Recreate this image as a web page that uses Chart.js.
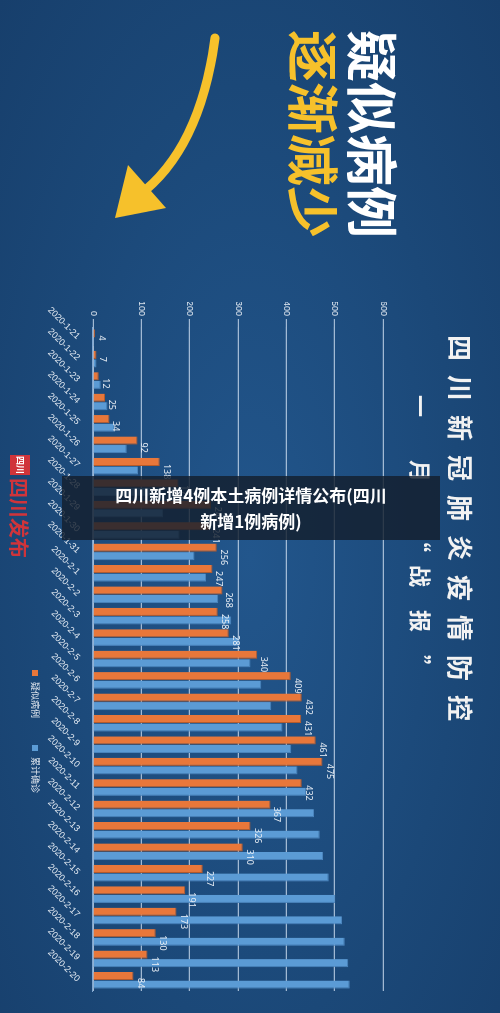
<!DOCTYPE html>
<html><head><meta charset="utf-8">
<script src="https://cdn.jsdelivr.net/npm/chart.js@4"></script>
<style>
html,body{margin:0;padding:0;background:#1c4a7c;width:500px;height:1013px;overflow:hidden;font-family:"Noto Sans CJK SC","Noto Sans",sans-serif}
#rot{position:absolute;left:500px;top:0;width:1013px;height:500px;transform-origin:0 0;transform:rotate(90deg);background:radial-gradient(ellipse at 55% 50%,#22568c 0%,#1b4878 60%,#173f6c 100%)}
#banner{position:absolute;left:62px;top:476px;width:378px;height:64px;background:rgba(20,30,45,0.82);color:#fff;font-weight:bold;font-size:17px;line-height:26px;text-align:center;padding-top:6px;box-sizing:border-box}
</style></head><body>
<div id="rot"><canvas id="c" width="1013" height="500"></canvas></div>
<div id="banner">四川新增4例本土病例详情公布(四川<br>新增1例病例)</div>
<script>
const categories=["2020-1-21","2020-1-22","2020-1-23","2020-1-24","2020-1-25","2020-1-26","2020-1-27","2020-1-28","2020-1-29","2020-1-30","2020-1-31","2020-2-1","2020-2-2","2020-2-3","2020-2-4","2020-2-5","2020-2-6","2020-2-7","2020-2-8","2020-2-9","2020-2-10","2020-2-11","2020-2-12","2020-2-13","2020-2-14","2020-2-15","2020-2-16","2020-2-17","2020-2-18","2020-2-19","2020-2-20"];
const suspected=[4,7,12,25,34,92,138,177,244,241,256,247,268,258,281,340,409,432,431,461,475,432,367,326,310,227,191,173,130,113,84];
const confirmed=[2,7,16,30,45,70,93,120,145,179,210,234,259,286,303,326,348,369,392,410,423,441,457,469,476,488,501,515,521,528,531];
const valueTicks=[0,100,200,300,400,500,600];
const seriesNames=["疑似病例","累计确诊"];

const deco={id:'deco',
 afterDatasetsDraw(ch){
  const ctx=ch.ctx;const m=ch.getDatasetMeta(0);
  ctx.save();ctx.fillStyle='#e8eef5';ctx.font='9px "Noto Sans",sans-serif';ctx.textAlign='left';ctx.textBaseline='bottom';
  m.data.forEach((b,i)=>{ctx.fillText(suspected[i],b.x+2,b.y-2);});
  ctx.restore();
 },
 beforeDraw(ch){
  const ctx=ch.ctx;ctx.save();
  ctx.fillStyle='#f2f2f2';ctx.font='bold 26px "Noto Sans CJK SC"';ctx.textBaseline='middle';
  const t="四川新冠肺炎疫情防控";for(let i=0;i<t.length;i++)ctx.fillText(t[i],335+i*40,40);
  ctx.font='bold 22px "Noto Sans CJK SC"';
  const s=["一","月","“","战","报","”"];const sx=[395,460,530,565,610,655];
  s.forEach((c,i)=>ctx.fillText(c,sx[i],80));
  ctx.font='bold 52px "Noto Sans CJK SC"';ctx.fillStyle='#ffffff';ctx.fillText("疑似病例",30,128);
  ctx.fillStyle='#f6c12b';ctx.fillText("逐渐减少",30,187);
  ctx.strokeStyle='#f6c12b';ctx.lineWidth=9;ctx.lineCap='round';
  ctx.beginPath();ctx.moveTo(38,285);ctx.quadraticCurveTo(150,300,196,362);ctx.stroke();
  ctx.fillStyle='#f6c12b';ctx.beginPath();ctx.moveTo(218,385);ctx.lineTo(165,372);ctx.lineTo(208,334);ctx.closePath();ctx.fill();
  ctx.fillStyle='#d0343a';ctx.fillRect(455,470,20,20);
  ctx.fillStyle='#fff';ctx.font='bold 9px "Noto Sans CJK SC"';ctx.fillText("四川",456,480);
  ctx.fillStyle='#d0343a';ctx.font='bold 20px "Noto Sans CJK SC"';ctx.fillText("四川发布",478,481);
  ctx.font='9px "Noto Sans CJK SC"';
  ctx.fillStyle='#e8773a';ctx.fillRect(670,462,6,6);ctx.fillStyle='#e0e6ee';ctx.fillText(seriesNames[0],682,465);
  ctx.fillStyle='#5b9bd5';ctx.fillRect(745,462,6,6);ctx.fillStyle='#e0e6ee';ctx.fillText(seriesNames[1],757,465);
  ctx.restore();
 }};

new Chart(document.getElementById('c'),{type:'bar',
 data:{labels:categories,datasets:[
  {label:seriesNames[0],data:suspected,backgroundColor:'#e8773a',borderColor:'#b85a28',borderWidth:{top:1,right:1},categoryPercentage:0.8,barPercentage:0.95},
  {label:seriesNames[1],data:confirmed,backgroundColor:'#5b9bd5',borderColor:'#4a84bd',borderWidth:{top:1,right:1},categoryPercentage:0.8,barPercentage:0.95}]},
 options:{responsive:false,animation:false,devicePixelRatio:1,
  layout:{padding:{left:302,top:117,right:22,bottom:38}},
  plugins:{legend:{display:false},tooltip:{enabled:false}},
  scales:{
   x:{grid:{display:false},border:{color:'#7fa6d0'},ticks:{color:'#dfe7f0',font:{size:9},minRotation:45,maxRotation:45,autoSkip:false},afterFit(s){s.height=55;}},
   y:{min:0,max:600,afterBuildTicks(s){s.ticks=valueTicks.map(v=>({value:v}));},grid:{color:'rgba(205,222,240,0.75)',lineWidth:1.2},border:{display:false},ticks:{color:'#dfe7f0',font:{size:9}},afterFit(s){s.width=25;}}
  }},
 plugins:[deco]});
</script></body></html>
